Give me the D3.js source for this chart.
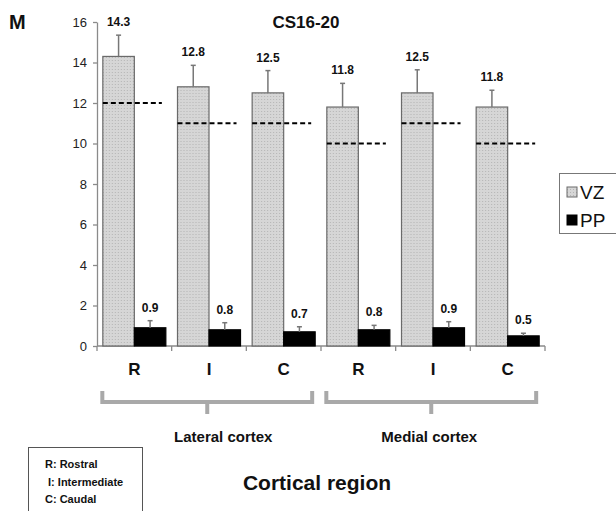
<!DOCTYPE html>
<html lang="en">
  <head>
    <meta charset="UTF-8" />
    <title>CS16-20 cortical region</title>
    <style>
      body { margin: 0; background: #fff; }
      svg { display: block; font-family: Arial, "Liberation Sans", sans-serif; }
      .axis path, .axis line { stroke: #8a8a8a; stroke-width: 1.3; }
      .axis text { fill: #222; font-size: 13px; }
    </style>
  </head>
  <body>
    <svg width="616" height="511"></svg>
    <script src="https://d3js.org/d3.v7.min.js"></script>
    <script>
      const regions = ["R", "I", "C", "R", "I", "C"];
      const cortexGroups = ["Lateral cortex", "Medial cortex"];
      const series = ["VZ", "PP"];
      const vzMeans = [14.3, 12.8, 12.5, 11.8, 12.5, 11.8];
      const vzErr = [1.05, 1.06, 1.1, 1.17, 1.14, 0.83];
      const ppMeans = [0.9, 0.8, 0.7, 0.8, 0.9, 0.5];
      const ppErr = [0.35, 0.35, 0.25, 0.22, 0.3, 0.13];
      const refLevels = [12, 11, 11, 10, 11, 10];
      const yTicks = [0, 2, 4, 6, 8, 10, 12, 14, 16];
      const keyLines = ["R: Rostral", " I: Intermediate", "C: Caudal"];

      const svg = d3.select("svg");

      const x = d3
        .scaleBand()
        .domain(d3.range(regions.length))
        .range([97, 545])
        .paddingInner(0.156)
        .paddingOuter(0.078);
      const xs = d3.scaleBand().domain(series).range([0, x.bandwidth()]);
      const y = d3.scaleLinear().domain([0, 16]).range([346, 22]);

      // light stipple for the VZ bars
      const pat = svg
        .append("defs")
        .append("pattern")
        .attr("id", "dots")
        .attr("width", 3)
        .attr("height", 3)
        .attr("patternUnits", "userSpaceOnUse");
      pat.append("rect").attr("width", 3).attr("height", 3).attr("fill", "#d6d6d6");
      pat.append("rect").attr("width", 1).attr("height", 1).attr("fill", "#b4b4b4");

      const rows = regions.map((r, i) => ({
        i,
        region: r,
        vals: [
          { key: "VZ", v: vzMeans[i], e: vzErr[i] },
          { key: "PP", v: ppMeans[i], e: ppErr[i] },
        ],
        ref: refLevels[i],
      }));

      // y axis
      svg
        .append("g")
        .attr("class", "axis")
        .attr("transform", "translate(97,0)")
        .call(d3.axisLeft(y).tickValues(yTicks).tickSize(4).tickPadding(6).tickSizeOuter(0));

      // x axis line with ticks at band edges
      const xAxis = svg.append("g").attr("class", "axis");
      xAxis
        .append("line")
        .attr("x1", x.range()[0])
        .attr("x2", x.range()[1])
        .attr("y1", y(0))
        .attr("y2", y(0));
      xAxis
        .selectAll(".edge")
        .data(d3.range(regions.length + 1))
        .join("line")
        .attr("x1", (d) => x.range()[0] + d * x.step())
        .attr("x2", (d) => x.range()[0] + d * x.step())
        .attr("y1", y(0))
        .attr("y2", y(0) + 5);

      const group = svg
        .append("g")
        .selectAll("g")
        .data(rows)
        .join("g")
        .attr("transform", (d) => `translate(${x(d.i)},0)`);

      group
        .selectAll("rect")
        .data((d) => d.vals)
        .join("rect")
        .attr("x", (d) => xs(d.key))
        .attr("width", xs.bandwidth())
        .attr("y", (d) => y(d.v))
        .attr("height", (d) => y(0) - y(d.v))
        .attr("fill", (d) => (d.key === "VZ" ? "url(#dots)" : "#000"))
        .attr("stroke", (d) => (d.key === "VZ" ? "#6a6a6a" : "#000"))
        .attr("stroke-width", 1.2);

      // error bars (upper only)
      const err = group
        .selectAll(".err")
        .data((d) => d.vals)
        .join("g")
        .attr("class", "err")
        .attr("stroke", "#777")
        .attr("stroke-width", 1.5);
      err
        .append("line")
        .attr("x1", (d) => xs(d.key) + xs.bandwidth() / 2)
        .attr("x2", (d) => xs(d.key) + xs.bandwidth() / 2)
        .attr("y1", (d) => y(d.v))
        .attr("y2", (d) => y(d.v + d.e));
      err
        .append("line")
        .attr("x1", (d) => xs(d.key) + xs.bandwidth() / 2 - 2.5)
        .attr("x2", (d) => xs(d.key) + xs.bandwidth() / 2 + 2.5)
        .attr("y1", (d) => y(d.v + d.e))
        .attr("y2", (d) => y(d.v + d.e));

      // value labels
      group
        .selectAll(".val")
        .data((d) => d.vals)
        .join("text")
        .attr("class", "val")
        .attr("x", (d) => xs(d.key) + xs.bandwidth() / 2)
        .attr("y", (d) => y(d.v + d.e) - 9)
        .attr("text-anchor", "middle")
        .attr("font-size", 12)
        .attr("font-weight", "bold")
        .attr("fill", "#111")
        .text((d) => d.v.toFixed(1));

      // dashed reference levels
      group
        .append("line")
        .attr("x1", 0)
        .attr("x2", x.bandwidth() - 4)
        .attr("y1", (d) => y(d.ref))
        .attr("y2", (d) => y(d.ref))
        .attr("stroke", "#000")
        .attr("stroke-width", 2)
        .attr("stroke-dasharray", "5,3");

      // region letters
      svg
        .append("g")
        .selectAll("text")
        .data(rows)
        .join("text")
        .attr("x", (d) => x(d.i) + x.bandwidth() / 2)
        .attr("y", 375)
        .attr("text-anchor", "middle")
        .attr("font-size", 17)
        .attr("font-weight", "bold")
        .attr("fill", "#111")
        .text((d) => d.region);

      // brackets for cortex groups
      const spans = cortexGroups.map((name, k) => {
        const x0 = x(k * 3) - 0.5;
        const x1 = x(k * 3 + 2) + x.bandwidth() - 3;
        return { name, x0, x1, mid: (x0 + x1) / 2 };
      });
      const br = svg
        .append("g")
        .selectAll("g")
        .data(spans)
        .join("g")
        .attr("fill", "none")
        .attr("stroke", "#a9a9a9")
        .attr("stroke-width", 4);
      br.append("path").attr(
        "d",
        (d) => `M${d.x0},391V402H${d.x1}V391`
      );
      br.append("line")
        .attr("x1", (d) => d.mid)
        .attr("x2", (d) => d.mid)
        .attr("y1", 402)
        .attr("y2", 414);

      svg
        .append("g")
        .selectAll("text")
        .data(spans)
        .join("text")
        .attr("x", (d, k) => d.mid + (k === 0 ? 16 : -2))
        .attr("y", 442)
        .attr("text-anchor", "middle")
        .attr("font-size", 15)
        .attr("font-weight", "bold")
        .attr("fill", "#111")
        .text((d) => d.name);

      svg
        .append("text")
        .attr("x", 317)
        .attr("y", 490)
        .attr("text-anchor", "middle")
        .attr("font-size", 21)
        .attr("font-weight", "bold")
        .attr("fill", "#111")
        .text("Cortical region");

      // title and panel letter
      svg
        .append("text")
        .attr("x", 306)
        .attr("y", 28)
        .attr("text-anchor", "middle")
        .attr("font-size", 17)
        .attr("font-weight", "bold")
        .attr("fill", "#111")
        .text("CS16-20");
      svg
        .append("text")
        .attr("x", 9)
        .attr("y", 29)
        .attr("font-size", 20)
        .attr("font-weight", "bold")
        .attr("fill", "#111")
        .text("M");

      // series legend
      const leg = svg.append("g");
      leg
        .append("rect")
        .attr("x", 559.5)
        .attr("y", 173.5)
        .attr("width", 70)
        .attr("height", 60)
        .attr("fill", "#fff")
        .attr("stroke", "#777");
      const li = leg
        .selectAll("g")
        .data(series)
        .join("g")
        .attr("transform", (d, k) => `translate(567,${192 + k * 28})`);
      li.append("rect")
        .attr("x", 0)
        .attr("y", -5)
        .attr("width", 10)
        .attr("height", 10)
        .attr("fill", (d) => (d === "VZ" ? "url(#dots)" : "#000"))
        .attr("stroke", (d) => (d === "VZ" ? "#6a6a6a" : "#000"));
      li.append("text")
        .attr("x", 13)
        .attr("y", 7)
        .attr("font-size", 19)
        .attr("fill", "#111")
        .text((d) => d);

      // abbreviation key
      svg
        .append("rect")
        .attr("x", 28.5)
        .attr("y", 447.5)
        .attr("width", 114)
        .attr("height", 70)
        .attr("fill", "#fff")
        .attr("stroke", "#555");
      svg
        .append("g")
        .selectAll("text")
        .data(keyLines)
        .join("text")
        .attr("x", 45)
        .attr("y", (d, k) => 468 + k * 17.5)
        .attr("font-size", 11)
        .attr("font-weight", "bold")
        .attr("fill", "#111")
        .attr("xml:space", "preserve")
        .style("white-space", "pre")
        .text((d) => d);
    </script>
  </body>
</html>
